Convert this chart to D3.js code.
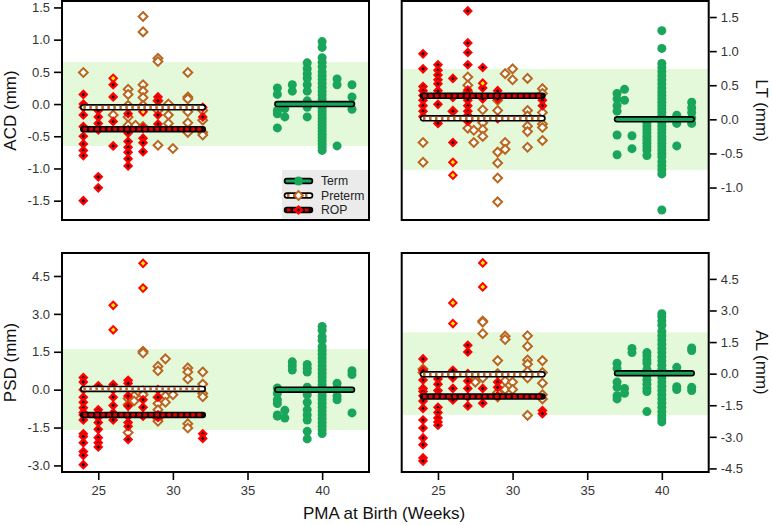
<!DOCTYPE html>
<html><head><meta charset="utf-8">
<script src="https://cdn.jsdelivr.net/npm/d3@7"></script>
<style>
html,body{margin:0;padding:0;background:#fff;}
svg{display:block;font-family:'Liberation Sans',Arial,sans-serif;}
</style></head>
<body><svg id="c" width="772" height="525"></svg>
<script>
// ---------- DATA (week, [values]) ----------
const xTicks = [25, 30, 35, 40];
const acdTicks = [-1.5, -1.0, -0.5, 0.0, 0.5, 1.0, 1.5];
const ltTicks = [-1.0, -0.5, 0.0, 0.5, 1.0, 1.5];
const psdTicks = [-3.0, -1.5, 0.0, 1.5, 3.0, 4.5];
const alTicks = [-4.5, -3.0, -1.5, 0.0, 1.5, 3.0, 4.5];
const groups = ["Term", "Preterm", "ROP"];

const acdROP = [[24,[0.15,0.0,-0.05,-0.17,-0.35,-0.5,-0.62,-0.72,-0.8,-1.5]],[25,[-0.1,-0.2,-0.3,-0.4,-1.13,-1.3]],[26,[0.3,0.11,-0.27,-0.65]],[27,[-0.15,-0.4,-0.45,-0.58,-0.67,-0.75,-0.85,-0.96]],[28,[-0.37,-0.53,-0.6,-0.74]],[29,[0.11,0.05,-0.17,-0.31]],[32,[-0.05,-0.2]]];
const acdROPYellow = [[26,0.4],[28,-0.12]];
const acdPreterm = [[24,[0.49]],[26,[-0.17]],[27,[0.23,0.15,-0.02,-0.2,-0.33]],[27.5,[-0.33]],[28,[1.36,1.12,0.3,0.2,0.1,-0.02,-0.35]],[29,[0.71,0.66,0.05,-0.1,-0.64]],[29.7,[0.0,-0.17,-0.3]],[30,[-0.69]],[31,[0.49,0.11,0.08,-0.12,-0.29,-0.44]],[32,[-0.1,-0.25,-0.44,-0.48]]];
const acdTerm = [[37,[0.25,0.15,-0.1,-0.15,-0.37]],[37.5,[-0.07,-0.2]],[38,[0.3,0.2]],[39,[0.64,0.55,0.47,0.4,0.3,0.2,0.05,-0.05,-0.2]],[40,[0.97,0.88,0.72,0.65,0.58,0.5,0.44,0.38,0.32,0.26,0.2,0.14,0.08,0.03,-0.02,-0.07,-0.12,-0.17,-0.22,-0.27,-0.32,-0.37,-0.42,-0.47,-0.52,-0.57,-0.62,-0.67,-0.72]],[41,[0.39,0.3,-0.65]],[42,[0.3,0.11,-0.08]]];
const acdMeans = [0.0, -0.05, -0.39];
const acdBand = 0.65;

const ltROP = [[24,[0.96,0.74,0.48,0.42,0.35,0.28,0.2,0.12,0.04]],[25,[0.8,0.72,0.65,0.58,0.52,0.42,0.22,-0.01,-0.06]],[26,[0.6,0.32,0.12,-0.34]],[27,[1.59,1.12,0.98,0.8,0.43,0.35,0.28,0.2,0.12,0.06,-0.03]],[28,[0.76,0.46,0.3]],[29,[0.42,0.3,0.01]],[32,[0.28,0.2]]];
const ltROPYellow = [[26,-0.63],[26,-0.82],[28,0.53]];
const ltPreterm = [[24,[-0.34,-0.63]],[26,[0.12]],[27,[0.62,0.5,0.4,-0.13]],[27.4,[-0.16,-0.34]],[28,[0.14,-0.05,-0.15,-0.25]],[29,[0.28,0.13,-0.48,-0.64,-0.86,-1.21]],[29.5,[0.67,-0.34,-0.44]],[30,[0.74,0.58]],[31,[0.6,0.13,0.05,-0.1,-0.18,-0.41]],[32,[0.45,0.38,0.1,-0.07,-0.12,-0.31]]];
const ltTerm = [[37,[0.38,0.3,0.2,0.12,-0.23,-0.52]],[37.5,[0.44,0.28]],[38,[-0.24,-0.43]],[39,[-0.05,-0.1,-0.15,-0.2,-0.25,-0.3,-0.35,-0.4,-0.45,-0.53]],[40,[1.3,1.04,0.82,0.76,0.7,0.64,0.58,0.52,0.46,0.4,0.35,0.3,0.25,0.2,0.15,0.1,0.05,0.0,-0.05,-0.1,-0.15,-0.2,-0.25,-0.3,-0.35,-0.4,-0.45,-0.5,-0.55,-0.62,-0.68,-0.74,-0.8,-1.33]],[41,[0.06,-0.06,-0.39]],[42,[0.25,0.17,0.1,0.02,-0.06]]];
const ltMeans = [0.0, 0.015, 0.345];
const ltBand = 0.74;

const psdROP = [[24,[0.48,0.3,0.0,-0.3,-0.5,-0.72,-0.9,-1.0,-1.2,-1.75,-1.85,-2.1,-2.45,-2.6,-2.97]],[25,[0.15,-0.8,-0.95,-1.1,-1.3,-1.57,-1.9,-2.1,-2.27]],[26,[0.2,0.0,-0.3,-0.63,-0.92,-1.2]],[27,[0.37,0.25,-0.25,-0.65,-1.05,-1.3,-1.45,-1.97]],[28,[-0.4,-0.7,-1.05]],[29,[0.0,-0.3,-1.0,-1.1]],[32,[-1.75,-1.93]]];
const psdROPYellow = [[26,3.34],[26,2.37],[28,5.0],[28,4.02]];
const psdPreterm = [[27,[-0.35,-0.6,-1.7]],[27.4,[-0.25,-0.45]],[28,[1.52,1.45,-0.05,-0.2]],[29,[0.92,0.75,-0.3,-0.55,-0.8,-1.15,-1.25]],[29.5,[1.22,-0.25,-0.5]],[30,[-0.2]],[31,[0.86,0.7,0.42,-1.35,-1.52]],[32,[0.7,0.22,-0.15,-0.28]]];
const psdTerm = [[37,[0.07,-0.15,-0.4,-0.55,-1.0,-1.05]],[37.5,[-0.82,-1.12]],[38,[1.1,0.95,0.78]],[39,[1.0,0.85,0.7,0.1,-0.2,-0.5,-0.8,-1.0,-1.2,-1.65,-1.95]],[40,[2.5,2.35,2.1,1.95,1.7,1.55,1.4,1.25,1.1,0.95,0.8,0.65,0.5,0.35,0.2,0.05,-0.1,-0.25,-0.4,-0.55,-0.7,-0.85,-1.0,-1.15,-1.3,-1.45,-1.6,-1.74]],[41,[0.25,0.05,-0.25,-0.4]],[42,[0.75,0.6,-0.92]]];
const psdMeans = [0.0, 0.03, -1.0];
const psdBand = 1.6;

const alROP = [[24,[0.7,0.15,-0.3,-0.7,-0.85,-1.05,-1.3,-1.65,-2.2,-2.58,-3.05,-3.37,-4.0,-4.15]],[25,[-0.25,-0.5,-0.8,-1.0,-1.6,-1.85,-2.1,-2.3,-2.45]],[26,[0.16,-0.2,-0.7,-1.25]],[27,[1.35,1.03,0.0,-0.35,-0.7,-1.1,-1.53]],[28,[-0.7,-1.4]],[29,[-0.4,-0.65,-1.05]],[32,[-1.75,-1.9]]];
const alROPYellow = [[26,3.36],[26,2.38],[28,5.26],[28,4.12]];
const alPreterm = [[24,[0.22,0.05]],[27.5,[-0.25,-0.4]],[28,[2.5,2.45,1.9,-0.2]],[29,[0.62,0.0,-0.9,-1.1]],[29.5,[1.78,1.62,-0.35,-0.75]],[30,[-0.4,-0.75]],[31,[1.8,1.3,0.65,0.45,0.1,-0.2,-1.98]],[32,[0.62,0.05,-0.45,-1.0,-1.2]]];
const alTerm = [[37,[0.5,0.25,-0.4,-0.65,-1.05,-1.2]],[37.5,[-0.7,-0.93]],[38,[1.2,1.0]],[39,[1.0,0.85,0.65,0.5,0.2,-0.1,-0.3,-0.5,-0.7,-0.85,-1.8]],[40,[2.85,2.7,2.5,2.3,2.0,1.8,1.6,1.4,1.2,1.0,0.8,0.6,0.4,0.2,0.0,-0.2,-0.4,-0.6,-0.8,-1.0,-1.2,-1.4,-1.6,-1.8,-2.0,-2.15,-2.29]],[41,[0.3,0.1,-0.62,-0.75]],[42,[1.22,1.1,-0.65,-0.8]]];
const alMeans = [0.02, -0.03, -1.09];
const alBand = 1.96;

const termSpan = [37, 42];
const pretermSpan = [24, 32];

// ---------- STYLE / LAYOUT ----------
const C = {term:"#19a55a", brown:"#b9661e", red:"#ff0000", band:"#e4f9d9"};
const xDomain = [22.57, 43.14];
const panels = [
  {label:"ACD (mm)", side:"left", xr:[62,369], yr:[220,1], dom:[-1.8,1.6], ticks:acdTicks, term:acdTerm, pre:acdPreterm, rop:acdROP, ropY:acdROPYellow, means:acdMeans, band:acdBand, bottom:false, legend:true},
  {label:"LT (mm)", side:"right", xr:[401.7,708.7], yr:[220,1], dom:[-1.476,1.735], ticks:ltTicks, term:ltTerm, pre:ltPreterm, rop:ltROP, ropY:ltROPYellow, means:ltMeans, band:ltBand, bottom:false},
  {label:"PSD (mm)", side:"left", xr:[62,369], yr:[472,253], dom:[-3.26,5.41], ticks:psdTicks, term:psdTerm, pre:psdPreterm, rop:psdROP, ropY:psdROPYellow, means:psdMeans, band:psdBand, bottom:true},
  {label:"AL (mm)", side:"right", xr:[401.7,708.7], yr:[472,253], dom:[-4.67,5.73], ticks:alTicks, term:alTerm, pre:alPreterm, rop:alROP, ropY:alROPYellow, means:alMeans, band:alBand, bottom:true}
];

const svg = d3.select("#c");
const flat = cols => cols.flatMap(([w, vs]) => vs.map(v => [w, v]));
const diamond = s => `M0,${-s}L${s},0L0,${s}L${-s},0Z`;

function drawMarker(g, kind, x, y, yellow) {
  if (kind === "Term") {
    g.append("circle").attr("cx", x).attr("cy", y).attr("r", 4.5).attr("fill", C.term);
  } else if (kind === "Preterm") {
    g.append("path").attr("d", diamond(4.4)).attr("transform", `translate(${x},${y})`)
      .attr("fill", "#fff").attr("stroke", C.brown).attr("stroke-width", 2);
  } else {
    g.append("path").attr("d", diamond(5.1)).attr("transform", `translate(${x},${y})`).attr("fill", C.red);
    g.append("path").attr("d", diamond(yellow ? 2.3 : 1.8)).attr("transform", `translate(${x},${y})`)
      .attr("fill", yellow ? "#ffee00" : "#1a0000");
  }
}

function meanLine(g, kind, x1, x2, y) {
  const ln = () => g.append("line").attr("x1", x1).attr("x2", x2).attr("y1", y).attr("y2", y).attr("stroke-linecap", "round");
  ln().attr("stroke", "#000").attr("stroke-width", 6.5);
  if (kind === "Term") {
    ln().attr("stroke", C.term).attr("stroke-width", 3.2);
  } else if (kind === "Preterm") {
    ln().attr("stroke", "#fff").attr("stroke-width", 3.2);
    g.append("line").attr("x1", x1).attr("x2", x2).attr("y1", y).attr("y2", y)
      .attr("stroke", C.brown).attr("stroke-width", 3.2).attr("stroke-dasharray", "2.5,3.5");
  } else {
    ln().attr("stroke", "#2a0000").attr("stroke-width", 3.2);
    g.append("line").attr("x1", x1).attr("x2", x2).attr("y1", y).attr("y2", y)
      .attr("stroke", "#e80000").attr("stroke-width", 3.2).attr("stroke-dasharray", "3.5,2.5");
  }
}

const fmt = d => d.toFixed(1);

panels.forEach(p => {
  const x = d3.scaleLinear().domain(xDomain).range(p.xr);
  const y = d3.scaleLinear().domain(p.dom).range(p.yr);
  const g = svg.append("g");
  const W = p.xr[1] - p.xr[0];
  g.append("rect").attr("x", p.xr[0]).attr("width", W)
    .attr("y", y(p.band)).attr("height", y(-p.band) - y(p.band)).attr("fill", C.band);
  const pg = g.append("g");
  flat(p.pre).forEach(([w, v]) => drawMarker(pg, "Preterm", x(w), y(v)));
  flat(p.rop).forEach(([w, v]) => drawMarker(pg, "ROP", x(w), y(v), false));
  p.ropY.forEach(([w, v]) => drawMarker(pg, "ROP", x(w), y(v), true));
  flat(p.term).forEach(([w, v]) => drawMarker(pg, "Term", x(w), y(v)));
  meanLine(g, "Preterm", x(pretermSpan[0]), x(pretermSpan[1]), y(p.means[1]));
  meanLine(g, "ROP", x(pretermSpan[0]), x(pretermSpan[1]), y(p.means[2]));
  meanLine(g, "Term", x(termSpan[0]), x(termSpan[1]), y(p.means[0]));

  if (p.legend) {
    const lx = 282, ly = 170;
    g.append("rect").attr("x", lx).attr("y", ly).attr("width", p.xr[1] - lx).attr("height", p.yr[0] - ly).attr("fill", "#ebebeb");
    groups.forEach((k, i) => {
      const yy = 181 + i * 14.5;
      meanLine(g, k, 287, 310, yy);
      drawMarker(g, k, 298.5, yy, false);
      g.append("text").attr("x", 321).attr("y", yy).attr("dy", "0.35em")
        .attr("font-size", 12.2).attr("fill", "#222").text(k);
    });
  }

  g.append("rect").attr("x", p.xr[0]).attr("y", p.yr[1]).attr("width", W).attr("height", p.yr[0] - p.yr[1])
    .attr("fill", "none").attr("stroke", "#000").attr("stroke-width", 2);

  const ax = p.side === "left" ? d3.axisLeft(y) : d3.axisRight(y);
  const ya = g.append("g").attr("transform", `translate(${p.side === "left" ? p.xr[0] - 1 : p.xr[1] + 1},0)`)
    .call(ax.tickValues(p.ticks).tickFormat(fmt).tickSize(7).tickPadding(4));
  ya.select(".domain").remove();
  ya.selectAll(".tick line").attr("stroke", "#000").attr("stroke-width", 1.6);
  ya.selectAll(".tick text").attr("font-size", 13).attr("fill", "#333").attr("font-family", "'Liberation Sans',Arial,sans-serif");

  if (p.bottom) {
    const xa = g.append("g").attr("transform", `translate(0,${p.yr[0] + 1})`)
      .call(d3.axisBottom(x).tickValues(xTicks).tickFormat(d3.format("d")).tickSize(7).tickPadding(6));
    xa.select(".domain").remove();
    xa.selectAll(".tick line").attr("stroke", "#000").attr("stroke-width", 1.6);
    xa.selectAll(".tick text").attr("font-size", 13).attr("fill", "#333").attr("font-family", "'Liberation Sans',Arial,sans-serif");
  }

  const cy = (p.yr[0] + p.yr[1]) / 2;
  const lxp = p.side === "left" ? 10 : 761;
  svg.append("text").attr("transform", `translate(${lxp},${cy}) rotate(${p.side === "left" ? -90 : 90})`)
    .attr("text-anchor", "middle").attr("dominant-baseline", "central")
    .attr("font-size", 17).attr("fill", "#111").text(p.label);
});

svg.append("text").attr("x", 384).attr("y", 519).attr("text-anchor", "middle")
  .attr("font-size", 17).attr("fill", "#111").text("PMA at Birth (Weeks)");
</script>
</body></html>
